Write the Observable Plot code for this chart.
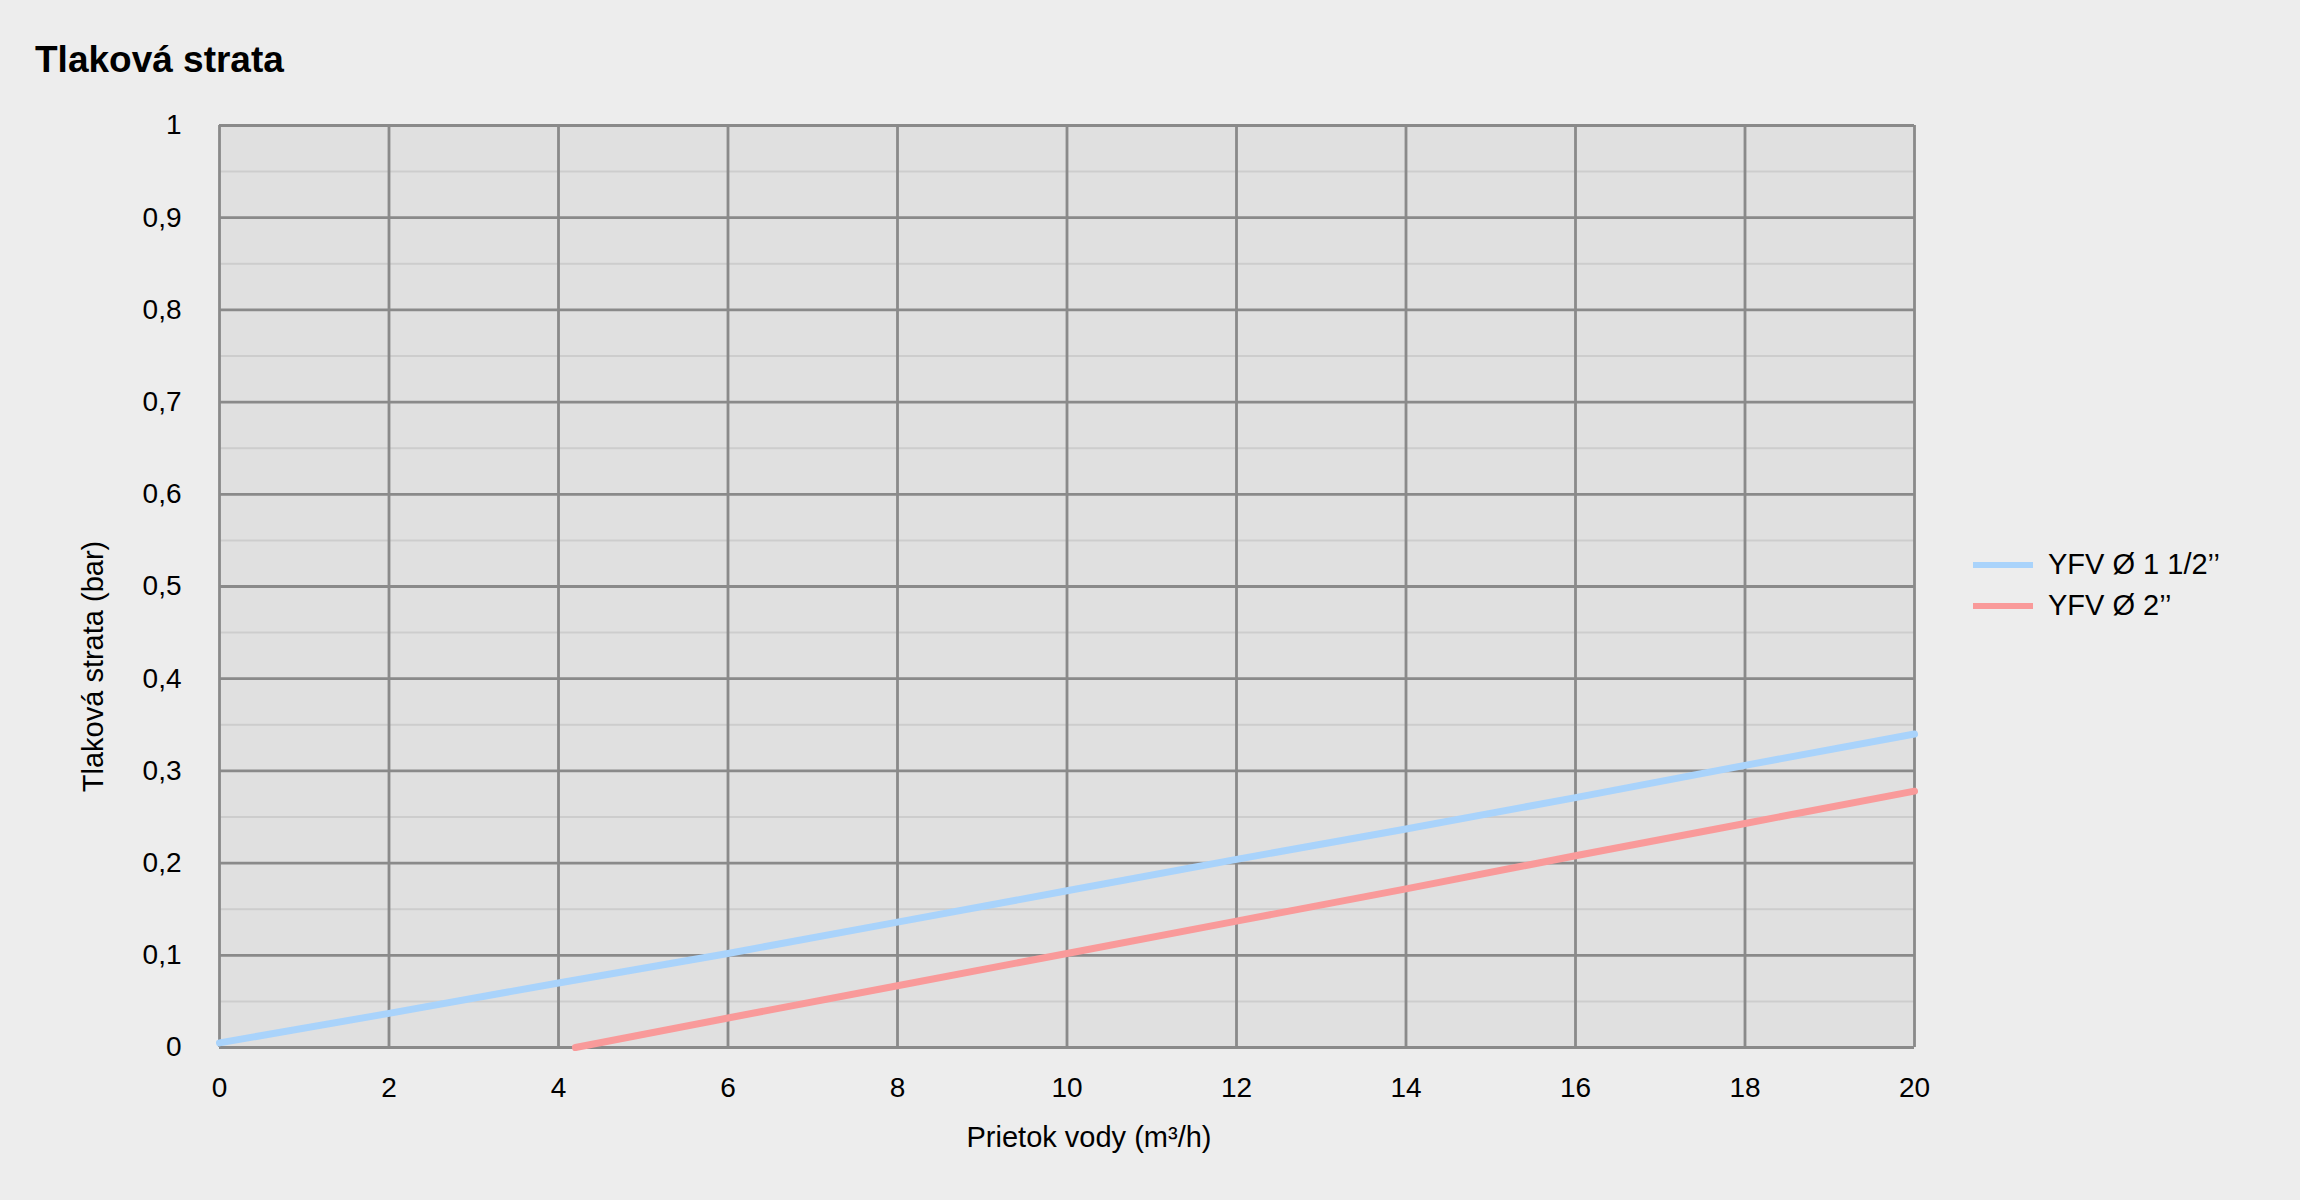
<!DOCTYPE html>
<html>
<head>
<meta charset="utf-8">
<script src="https://cdn.jsdelivr.net/npm/d3@7"></script>
<script src="https://cdn.jsdelivr.net/npm/@observablehq/plot@0.6"></script>
<style>
  html, body { margin: 0; padding: 0; background: #ededed; }
  body { width: 2300px; height: 1200px; position: relative; overflow: hidden; font-family: "Liberation Sans", Arial, sans-serif; }
  #title { position: absolute; left: 35px; top: 39px; font-size: 37px; font-weight: bold; color: #000; }
  #chart { position: absolute; left: 0; top: 95px; }
  #legend { position: absolute; left: 1973px; top: 544px; font-size: 29px; color: #000; }
  .item { display: flex; align-items: center; height: 41px; }
  .swatch { width: 60px; height: 6px; margin-right: 15px; }
</style>
</head>
<body>
<div id="title">Tlaková strata</div>
<div id="chart"></div>
<div id="legend"></div>
<script>
// Data
const seriesNames = ["YFV Ø 1 1/2’’", "YFV Ø 2’’"];
const seriesColors = ["#a9d3fb", "#f99a9a"];
const blueFlow = [0, 2, 4, 6, 8, 10, 12, 14, 16, 18, 20];
const bluePressure = [0.005, 0.037, 0.07, 0.102, 0.136, 0.17, 0.204, 0.237, 0.271, 0.306, 0.34];
const redFlow = [4.2, 6, 8, 10, 12, 14, 16, 18, 20];
const redPressure = [0, 0.032, 0.067, 0.102, 0.137, 0.172, 0.208, 0.243, 0.278];
const xTicks = [0, 2, 4, 6, 8, 10, 12, 14, 16, 18, 20];
const yTicks = [0, 0.1, 0.2, 0.3, 0.4, 0.5, 0.6, 0.7, 0.8, 0.9, 1];
const yMinorTicks = [0.05, 0.15, 0.25, 0.35, 0.45, 0.55, 0.65, 0.75, 0.85, 0.95];
const xLabel = "Prietok vody (m³/h)";
const yLabel = "Tlaková strata (bar)";

const rows = [
  ...blueFlow.map((x, i) => ({series: seriesNames[0], x, y: bluePressure[i]})),
  ...redFlow.map((x, i) => ({series: seriesNames[1], x, y: redPressure[i]}))
];

const fmt = d => String(+d.toFixed(2)).replace(".", ",");

const chart = Plot.plot({
  width: 2300,
  height: 1105,
  marginTop: 30,
  marginLeft: 219,
  marginRight: 386,
  marginBottom: 153,
  style: {background: "transparent", fontFamily: "'Liberation Sans', Arial, sans-serif", fontSize: "28px", color: "#000"},
  x: {domain: [0, 20], label: null},
  y: {domain: [0, 1], label: null},
  color: {domain: seriesNames, range: seriesColors},
  marks: [
    Plot.frame({fill: "#e0e0e0", stroke: null}),
    Plot.gridY(yMinorTicks, {stroke: "#cdcdcd", strokeOpacity: 1, strokeWidth: 2}),
    Plot.gridY(yTicks, {stroke: "#8a8a8a", strokeOpacity: 1, strokeWidth: 2.8}),
    Plot.gridX(xTicks, {stroke: "#8a8a8a", strokeOpacity: 1, strokeWidth: 2.8}),
    Plot.axisY(yTicks, {tickSize: 0, tickPadding: 38, tickFormat: fmt, fontSize: 28, label: null}),
    Plot.axisX(xTicks, {tickSize: 0, tickPadding: 30, tickFormat: d => String(d), fontSize: 28, label: null}),
    Plot.line(rows, {x: "x", y: "y", z: "series", stroke: "series", strokeWidth: 7}),
    Plot.text([xLabel], {frameAnchor: "bottom", lineAnchor: "middle", textAnchor: "middle", dy: 90, dx: 22, fontSize: 29, fill: "#000"}),
    Plot.text([yLabel], {frameAnchor: "left", textAnchor: "middle", lineAnchor: "middle", rotate: -90, dx: -126, dy: 80, fontSize: 29, fill: "#000"})
  ]
});
document.getElementById("chart").appendChild(chart);

const legend = document.getElementById("legend");
seriesNames.forEach((name, i) => {
  const item = document.createElement("div");
  item.className = "item";
  const sw = document.createElement("div");
  sw.className = "swatch";
  sw.style.background = seriesColors[i];
  const label = document.createElement("span");
  label.textContent = name;
  item.appendChild(sw);
  item.appendChild(label);
  legend.appendChild(item);
});
</script>
</body>
</html>
